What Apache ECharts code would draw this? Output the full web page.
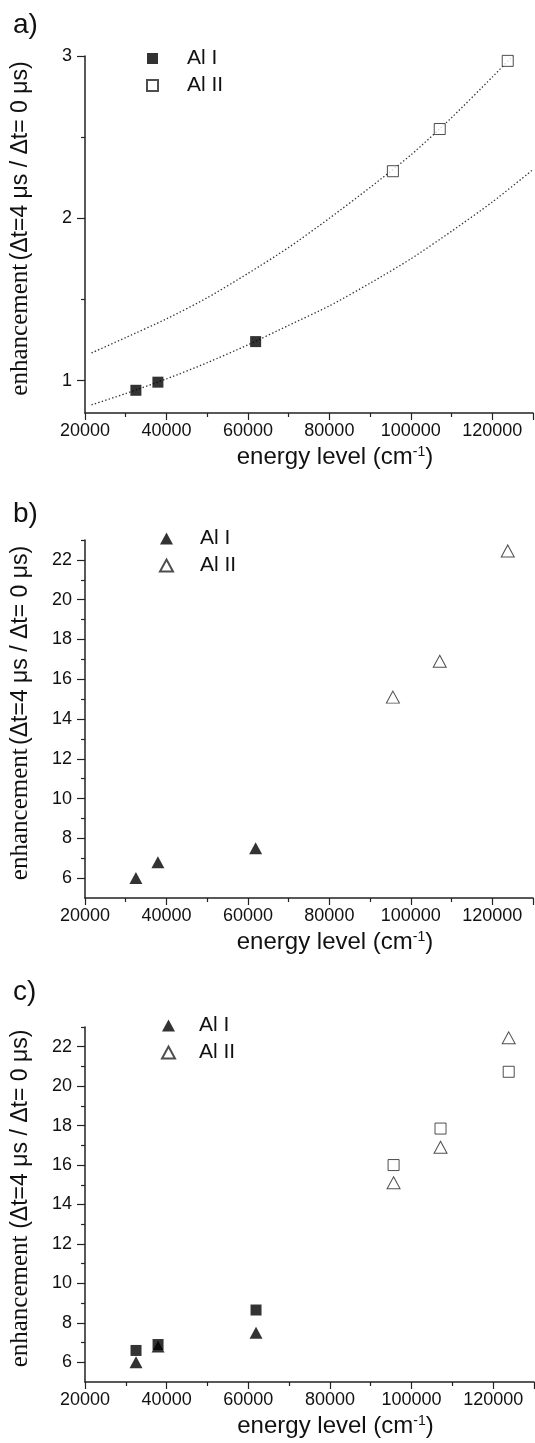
<!DOCTYPE html>
<html>
<head>
<meta charset="utf-8">
<script src="https://cdn.jsdelivr.net/npm/echarts@6.0.0/dist/echarts.min.js"></script>
<style>
html, body { margin: 0; padding: 0; background: #fff; }
.panel { width: 535px; position: relative; }
</style>
</head>
<body>
<div id="pa" class="panel" style="height:480px"></div>
<div id="pb" class="panel" style="height:485px"></div>
<div id="pc" class="panel" style="height:478px"></div>
<script>
// energy levels (cm-1), same levels in every panel
var energyI = [32500, 37900, 61900];
var energyII = [95600, 107100, 123800];

// a) enhancement, squares + dotted fits (read along the drawn curves)
var enhA_I = [0.94, 0.99, 1.24];
var enhA_II = [2.29, 2.55, 2.97];
var fitLowX = [21600, 30000, 40000, 50000, 60000, 70000, 80000, 90000, 100000, 110000, 120000, 130000];
var fitLowY = [0.85, 0.92, 1.01, 1.11, 1.22, 1.34, 1.46, 1.60, 1.75, 1.92, 2.10, 2.30];
var fitUpX = [21600, 30000, 40000, 50000, 60000, 70000, 80000, 90000, 100000, 110000, 120000, 125000];
var fitUpY = [1.17, 1.265, 1.38, 1.51, 1.66, 1.82, 2.00, 2.19, 2.39, 2.62, 2.87, 3.00];

// b) triangles
var enhB_I = [6.0, 6.8, 7.5];
var enhB_II = [15.1, 16.9, 22.45];

// c) triangles + squares
var enhC_triI = [6.0, 6.8, 7.5];
var enhC_triII = [15.1, 16.9, 22.45];
var enhC_sqI = [6.6, 6.9, 8.65];
var enhC_sqII = [16.0, 17.85, 20.73];

// axis ticks
var ticksA = [1, 2, 3];
var minorA = [1.5, 2.5];
var ticksBC = [6, 8, 10, 12, 14, 16, 18, 20, 22];
var minorBC = [7, 9, 11, 13, 15, 17, 19, 21, 23];

var SANS = "'Liberation Sans', Arial, sans-serif";
var SERIF = "'Liberation Serif', 'Times New Roman', serif";
var INK = '#111';

function pairs(xs, ys) {
    var out = [];
    for (var i = 0; i < xs.length; i++) {
        out.push([xs[i], ys[i]]);
    }
    return out;
}

function dots(name, xs, ys, symbol, size, filled) {
    return {
        name: name,
        type: 'scatter',
        symbol: symbol,
        symbolSize: size,
        z: 3,
        itemStyle: filled
            ? {color: '#000', borderColor: '#000', borderWidth: 0}
            : {color: '#fff', borderColor: '#222', borderWidth: 1},
        data: pairs(xs, ys)
    };
}

function fit(xs, ys) {
    return {
        type: 'line',
        smooth: 0.25,
        showSymbol: false,
        z: 2,
        lineStyle: {color: '#333', width: 1.3, type: [1.4, 2.2]},
        data: pairs(xs, ys)
    };
}

function panel(dom, p) {
    var chart = echarts.init(document.getElementById(dom));
    var option = {
        animation: false,
        title: {
            text: p.label, left: 8, top: p.titleTop,
            textStyle: {fontFamily: SANS, fontSize: 28, fontWeight: 'normal', color: INK}
        },
        grid: {left: p.left, top: p.top, width: 451, height: p.height},
        legend: {
            orient: 'vertical', left: p.legendLeft, top: p.legendTop,
            itemWidth: p.iconW, itemHeight: p.iconH, itemGap: 6,
            textStyle: {fontFamily: SANS, fontSize: 21, lineHeight: 21, color: INK, padding: [0, 0, 0, p.legendPad]},
            data: p.legend
        },
        xAxis: {
            type: 'value', min: 20000, max: 130000, interval: 20000,
            name: 'energy level (cm{sup|-1})',
            nameLocation: 'middle', nameGap: 32,
            nameTextStyle: {
                fontFamily: SANS, fontSize: 24, color: INK, padding: [0, 0, 0, 52],
                rich: {sup: {fontFamily: SANS, fontSize: 14, verticalAlign: 'top', color: INK}}
            },
            axisLine: {lineStyle: {color: '#222', width: 1.5}},
            axisTick: {length: 7, lineStyle: {color: '#222', width: 1.2}},
            minorTick: {show: true, splitNumber: 2, length: 4, lineStyle: {color: '#222', width: 1.2}},
            axisLabel: {
                fontFamily: SANS, fontSize: 18, color: INK, margin: 9,
                formatter: function (v) { return String(v); }
            },
            splitLine: {show: false}
        },
        yAxis: [{
            type: 'value', min: p.ymin, max: p.ymax,
            name: '{s|enhancement}' + p.gap + '{a|(\u0394t=4 \u03bcs / \u0394t= 0 \u03bcs)}',
            nameLocation: 'middle', nameGap: 52, nameRotate: 90,
            nameTextStyle: {
                padding: [0, 0, 0, 12],
                rich: {
                    s: {fontFamily: SERIF, fontSize: 25, color: INK},
                    a: {fontFamily: SANS, fontSize: 23, color: INK}
                }
            },
            axisLine: {show: true, lineStyle: {color: '#222', width: 1.5}},
            axisTick: {show: true, length: 8, customValues: p.ticks, lineStyle: {color: '#222', width: 1.2}},
            axisLabel: {fontFamily: SANS, fontSize: 18, color: INK, margin: 13, customValues: p.ticks},
            splitLine: {show: false}
        }, {
            type: 'value', min: p.ymin, max: p.ymax, position: 'left',
            axisLine: {show: false},
            axisTick: {show: true, length: 4, customValues: p.minor, lineStyle: {color: '#222', width: 1.2}},
            axisLabel: {show: false},
            splitLine: {show: false}
        }],
        series: p.series
    };
    chart.setOption(option);
    return chart;
}

panel('pa', {
    label: 'a)', titleTop: 6,
    left: 82, top: 56, height: 357,
    ymin: 0.8, ymax: 3, ticks: ticksA, minor: minorA, gap: ' ',
    legendLeft: 141, legendTop: 43, iconW: 11, iconH: 11, legendPad: 24,
    legend: [{name: 'Al I', icon: 'rect'}, {name: 'Al II', icon: 'rect'}],
    series: [
        fit(fitLowX, fitLowY),
        fit(fitUpX, fitUpY),
        dots('Al I', energyI, enhA_I, 'rect', 11, true),
        dots('Al II', energyII, enhA_II, 'rect', 11, false)
    ]
});

panel('pb', {
    label: 'b)', titleTop: 15,
    left: 82, top: 60, height: 358,
    ymin: 5, ymax: 23, ticks: ticksBC, minor: minorBC, gap: ' ',
    legendLeft: 154, legendTop: 43, iconW: 13, iconH: 12, legendPad: 22,
    legend: [{name: 'Al I', icon: 'triangle'}, {name: 'Al II', icon: 'triangle'}],
    series: [
        dots('Al I', energyI, enhB_I, 'triangle', [13, 12], true),
        dots('Al II', energyII, enhB_II, 'triangle', [13, 12], false)
    ]
});

panel('pc', {
    label: 'c)', titleTop: 8,
    left: 83, top: 62, height: 357,
    ymin: 5, ymax: 23, ticks: ticksBC, minor: minorBC, gap: '  ',
    legendLeft: 156, legendTop: 45, iconW: 13, iconH: 12, legendPad: 19,
    legend: [{name: 'Al I', icon: 'triangle'}, {name: 'Al II', icon: 'triangle'}],
    series: [
        dots('Al I, squares', energyI, enhC_sqI, 'rect', 11, true),
        dots('Al II, squares', energyII, enhC_sqII, 'rect', 11, false),
        dots('Al I', energyI, enhC_triI, 'triangle', [13, 12], true),
        dots('Al II', energyII, enhC_triII, 'triangle', [13, 12], false)
    ]
});
</script>
</body>
</html>
